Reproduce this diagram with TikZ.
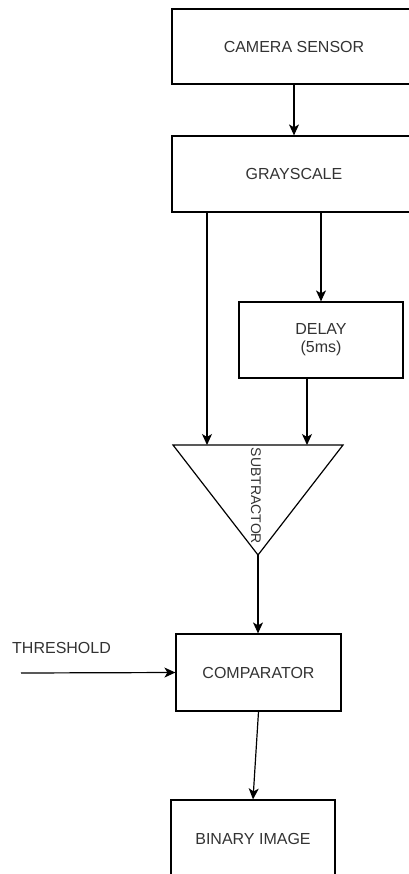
\documentclass[tikz,border=0pt]{standalone}
\usepackage{fontspec}
\setmainfont{Liberation Sans}
\usetikzlibrary{arrows.meta,positioning}

\begin{document}
\begin{tikzpicture}[x=1pt, y=-1pt,
        blockbox/.style={draw=black, line width=1.2pt, rectangle, inner sep=0pt, align=center, text=labeltext, font=\fontsize{16}{18}\selectfont},
        flow/.style={line width=1.2pt, -{Stealth[length=11pt, width=10pt, inset=3pt]}}]
        \definecolor{labeltext}{RGB}{51,51,51}

        % Page frame, same size as the reference
        \useasboundingbox (0,0) rectangle (408,874);

        % Blocks (camera and grayscale run off the right edge)
        \node[blockbox, minimum width=244, minimum height=75] (camera) at (294,46.5) {CAMERA SENSOR};
        \node[blockbox, minimum width=244, minimum height=76] (gray) at (294,174) {GRAYSCALE};
        \node[blockbox, minimum width=164, minimum height=76] (delay) at (321,340) {DELAY\\(5ms)};

        % Subtractor triangle, drawn by hand
        \coordinate (sub-l) at (173,445);
        \coordinate (sub-r) at (343,445);
        \coordinate (sub-tip) at (258,555);
        \coordinate (sub-in1) at (207,445);
        \coordinate (sub-in2) at (307,445);
        \draw[line width=1.2pt] (sub-l) -- (sub-r) -- (sub-tip) -- cycle;
        \node[rotate=-90, inner sep=0pt, text=labeltext, font=\fontsize{14}{16}\selectfont] (sub) at (256,496) {SUBTRACTOR};

        \node[blockbox, minimum width=165, minimum height=77] (comp) at (258.5,672.5) {COMPARATOR};
        \node[blockbox, minimum width=164, minimum height=77] (binary) at (253,838.5) {BINARY IMAGE};

        % Threshold input
        \node[anchor=west, inner sep=0pt, text=labeltext, font=\fontsize{16}{18}\selectfont] (thresh) at (12,648) {THRESHOLD};
        \coordinate (thresh-in) at (21,673);

        % Connectors
        \draw[flow] (camera) -- (gray);
        \draw[flow] (gray.south -| sub-in1) -- (sub-in1);
        \draw[flow] (gray.south -| delay.north) -- (delay.north);
        \draw[flow] (delay.south -| sub-in2) -- (sub-in2);
        \draw[flow] (sub-tip) -- (comp.north -| sub-tip);
        \draw[flow] (thresh-in) -- (comp.west);
        \draw[flow] (comp.south) -- (binary.north);
\end{tikzpicture}
\end{document}
